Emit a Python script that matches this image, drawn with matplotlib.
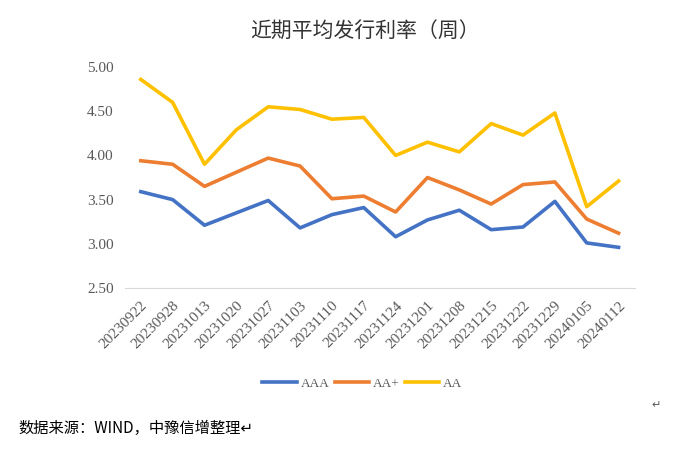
import matplotlib.pyplot as plt

plt.rcParams['font.family'] = ['Noto Sans CJK SC', 'DejaVu Sans']

# data
dates = ['20230922', '20230928', '20231013', '20231020', '20231027', '20231103',
         '20231110', '20231117', '20231124', '20231201', '20231208', '20231215',
         '20231222', '20231229', '20240105', '20240112']
aaa = [3.59, 3.50, 3.21, 3.35, 3.49, 3.18, 3.33, 3.41, 3.08, 3.27, 3.38, 3.16,
       3.19, 3.48, 3.01, 2.96]
aa_plus = [3.94, 3.90, 3.65, 3.81, 3.97, 3.88, 3.51, 3.54, 3.36, 3.75, 3.61, 3.45,
           3.67, 3.70, 3.28, 3.12]
aa = [4.86, 4.60, 3.90, 4.29, 4.55, 4.52, 4.41, 4.43, 4.00, 4.15, 4.04, 4.36,
      4.23, 4.48, 3.42, 3.71]
yticks = [2.5, 3.0, 3.5, 4.0, 4.5, 5.0]

fig = plt.figure(figsize=(6.75, 4.5), dpi=100)
ax = fig.add_axes([0.185, 0.36, 0.755, 0.491])

x = range(len(dates))
ax.plot(x, aaa, color='#4472C4', lw=2.6, label='AAA')
ax.plot(x, aa_plus, color='#ED7D31', lw=2.6, label='AA+')
ax.plot(x, aa, color='#FFC000', lw=2.6, label='AA')

ax.set_xlim(-0.5, len(dates) - 0.5)
ax.set_ylim(2.5, 5.0)
ax.set_yticks(yticks)
ax.set_yticklabels([f'{v:.2f}' for v in yticks])
ax.set_xticks(list(x))
ax.set_xticklabels(dates, rotation=45, ha='right', rotation_mode='anchor')
for t in ax.get_yticklabels():
    t.set_fontfamily('Liberation Serif')
    t.set_fontsize(11)
    t.set_color('#595959')
for t in ax.get_xticklabels():
    t.set_fontfamily('Liberation Serif')
    t.set_fontsize(11)
    t.set_color('#595959')
ax.tick_params(length=0, pad=8)
for s in ['top', 'right', 'left']:
    ax.spines[s].set_visible(False)
ax.spines['bottom'].set_color('#D9D9D9')

fig.text(0.54, 0.93, '近期平均发行利率（周）', ha='center', va='center',
         fontsize=15, color='#333333')

leg = fig.legend(loc='center', bbox_to_anchor=(0.537, 0.148), ncol=3, frameon=False,
                 fontsize=9.5, handlelength=2.6, columnspacing=0.4, handletextpad=0.3,
                 labelcolor='#595959')
for t in leg.get_texts():
    t.set_fontfamily('Liberation Serif')

fig.text(0.027, 0.048, '数据来源：WIND，中豫信增整理↵', ha='left', va='center',
         fontsize=11, color='#000000')
fig.text(0.972, 0.1, '↵', ha='center', va='center', fontsize=8, color='#595959')

fig.savefig('out.png', dpi=100)
